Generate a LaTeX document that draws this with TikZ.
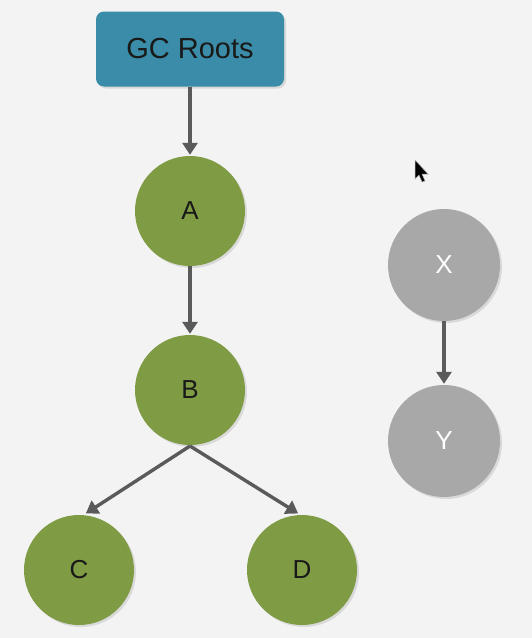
\documentclass[tikz,border=0pt]{standalone}
\usepackage{fontspec}
\setmainfont{Liberation Sans}
\usetikzlibrary{shadows,arrows.meta}
\definecolor{bgc}{HTML}{F3F3F3}
\definecolor{teal}{HTML}{3A8CA8}
\definecolor{leaf}{HTML}{7F9C45}
\definecolor{ghost}{HTML}{A8A8A8}
\definecolor{edge}{HTML}{5A5A5A}
\tikzset{
  shad/.style={drop shadow={opacity=0.22, shadow xshift=2pt, shadow yshift=-2pt}},
  rootbox/.style={draw=none, fill=teal, rounded corners=8pt, minimum width=188pt, minimum height=75pt, inner sep=0pt, shad, font=\fontsize{29}{32}\selectfont, text=black!90},
  live/.style={circle, fill=leaf, minimum size=110pt, inner sep=0pt, shad, font=\fontsize{26}{29}\selectfont, text=black!90},
  dead/.style={circle, fill=ghost, minimum size=112pt, inner sep=0pt, shad, font=\fontsize{26}{29}\selectfont, text=white},
  link/.style={draw=edge, line width=3.4pt, -{Triangle[length=12pt, width=15pt]}, shorten >=1pt}
}
\begin{document}
\begin{tikzpicture}[x=1pt, y=-1pt]
\fill[bgc] (0,0) rectangle (532,638);
\useasboundingbox (0,0) rectangle (532,638);
\node[rootbox] (gc) at (190,49) {GC Roots};
\node[live] (a) at (190,211) {A};
\node[live] (b) at (190,390) {B};
\node[live] (c) at (79,570) {C};
\node[live] (d) at (302,570) {D};
\node[dead] (x) at (444,265) {X};
\node[dead] (y) at (444,441) {Y};
\coordinate (bb) at (190,446);
\draw[link] (gc.south) -- (a.north);
\draw[link] (a.south) -- (b.north);
\draw[link] (bb) -- (85,514);
\draw[link] (bb) -- (299,514);
\draw[link] (x.south) -- (y.north);
% mouse cursor
\fill[black, draw=gray!60, line width=0.5pt] (415,160) -- (415,179) -- (419,175) -- (422,182) -- (425,181) -- (422,174) -- (428,174) -- cycle;
\end{tikzpicture}
\end{document}
